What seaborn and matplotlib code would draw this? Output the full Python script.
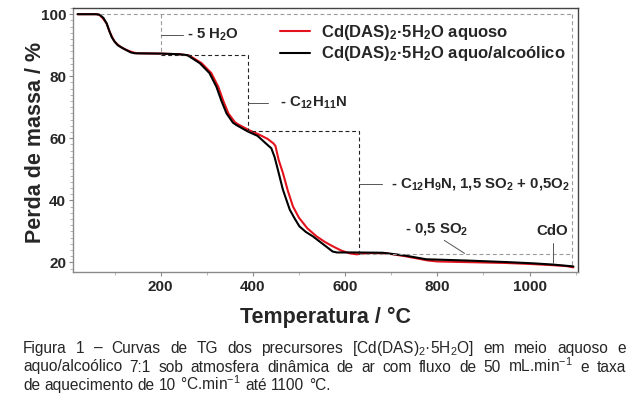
import matplotlib
matplotlib.use("Agg")
import numpy as np
import pandas as pd
import matplotlib.pyplot as plt
import seaborn as sns
from matplotlib.ticker import MultipleLocator

# ---------------- data ----------------
temp_aquoso = [20, 62, 67, 74, 83, 89, 95, 100, 107, 114, 124, 134, 142, 150, 200, 240,
               262, 289, 310, 325, 336, 347, 361, 368, 392, 412, 432, 445, 449, 456, 465,
               476, 487, 500, 518, 538, 556, 573, 592, 610, 625, 650, 690, 730, 780,
               800, 860, 950, 1000, 1050, 1080, 1095]
mass_aquoso = [100, 100, 99.8, 98.8, 97.0, 94.5, 92.6, 91.2, 90.2, 89.4, 88.6, 88.0, 87.6,
               87.4, 87.3, 87.1, 86.7, 84.2, 81.0, 76.6, 72.0, 68.0, 65.2, 64.5, 62.6,
               61.3, 59.8, 58.3, 57.5, 53.0, 48.9, 43.0, 38.0, 34.4, 31.0, 28.4, 26.6,
               25.2, 23.8, 22.9, 22.6, 23.0, 22.9, 22.0, 20.6, 20.3, 20.1, 19.8, 19.5,
               19.1, 18.8, 18.4]

temp_alcool = [20, 60, 68, 76, 83, 89, 94, 100, 107, 116, 126, 135, 144, 200, 240, 258,
               285, 306, 321, 332, 343, 357, 364, 389, 410, 436, 440, 447, 454, 465,
               480, 490, 501, 515, 530, 552, 573, 582, 620, 682, 730, 776, 863, 950,
               1007, 1050, 1095]
mass_alcool = [100, 100, 99.8, 98.8, 97.0, 94.5, 92.6, 91.2, 90.0, 89.2, 88.4, 87.7, 87.4,
               87.3, 87.1, 86.8, 84.2, 81.0, 76.6, 72.0, 68.0, 65.0, 64.3, 62.2, 60.8,
               57.3, 56.8, 54.0, 50.0, 43.5, 37.0, 34.3, 31.6, 29.8, 28.4, 25.9, 23.5,
               23.2, 23.2, 23.1, 22.2, 21.0, 20.6, 20.1, 19.7, 19.3, 18.7]

series_labels = [r"Cd(DAS)$_\mathregular{2}$·5H$_\mathregular{2}$O aquoso",
                 r"Cd(DAS)$_\mathregular{2}$·5H$_\mathregular{2}$O aquo/alcoólico"]
series_colors = ["#e3121c", "#000000"]

x_ticks = [200, 400, 600, 800, 1000]
y_ticks = [20, 40, 60, 80, 100]

# stepwise mass-loss guide (temperature limits and plateau levels)
step_temps = [200, 390, 630, 1093]
step_levels = [100, 87.0, 62.3, 22.8, 18.6]
guide_start_temp = 68

step_texts = [r"- 5 H$_\mathregular{2}$O",
              r"- C$_\mathregular{12}$H$_\mathregular{11}$N",
              r"- C$_\mathregular{12}$H$_\mathregular{9}$N, 1,5 SO$_\mathregular{2}$ + 0,5O$_\mathregular{2}$",
              r"- 0,5 SO$_\mathregular{2}$",
              "CdO"]

caption_lines = [
    r"Figura 1 – Curvas de TG dos precursores [Cd(DAS)$_\mathregular{2}$·5H$_\mathregular{2}$O] em meio aquoso e",
    r"aquo/alcoólico 7:1 sob atmosfera dinâmica de ar com fluxo de 50 mL.min$^\mathregular{-1}$ e taxa",
    r"de aquecimento de 10 °C.min$^\mathregular{-1}$ até 1100 °C.",
]

# ---------------- plot ----------------
sns.set_style("white")
plt.rcParams["font.family"] = "Liberation Sans"
plt.rcParams["mathtext.fontset"] = "custom"
plt.rcParams["mathtext.rm"] = "Liberation Sans"
plt.rcParams["mathtext.bf"] = "Liberation Sans:bold"
plt.rcParams["mathtext.it"] = "Liberation Sans:italic"

df = pd.concat([
    pd.DataFrame({"T": temp_aquoso, "m": mass_aquoso, "s": series_labels[0]}),
    pd.DataFrame({"T": temp_alcool, "m": mass_alcool, "s": series_labels[1]}),
])

W, H = 636, 398
fig = plt.figure(figsize=(W / 100, H / 100), dpi=100)
ax = fig.add_axes([73 / W, 1 - 272 / H, 505 / W, 264 / H])

sns.lineplot(data=df, x="T", y="m", hue="s", hue_order=series_labels,
             palette=dict(zip(series_labels, series_colors)), sort=False,
             estimator=None, linewidth=1.5, ax=ax)

ax.set_xlim(10, 1105)
ax.set_ylim(16.9, 102)

grey = "#9a9a9a"
dash = (0, (3.5, 2.5))
lw = 0.8
# grey frame of guide
ax.plot([guide_start_temp, step_temps[3]], [step_levels[0]] * 2, color=grey, lw=lw, ls=dash)
ax.plot([step_temps[3]] * 2, [step_levels[0], step_levels[4]], color=grey, lw=lw, ls=dash)
ax.plot([step_temps[0]] * 2, [step_levels[0], step_levels[1]], color=grey, lw=lw, ls=dash)
ax.plot([step_temps[2], step_temps[3]], [step_levels[3]] * 2, color=grey, lw=lw, ls=dash)
# black steps
ax.plot([step_temps[0], step_temps[1], step_temps[1], step_temps[2], step_temps[2]],
        [step_levels[1], step_levels[1], step_levels[2], step_levels[2], step_levels[3]],
        color="#222222", lw=lw, ls=dash)

lead = "#555555"
fs = 10.8
ax.plot([step_temps[0], 248], [93.2, 93.2], color=lead, lw=0.7)
ax.text(258, 93.2, step_texts[0], fontsize=fs, fontweight="bold", va="center")
ax.plot([step_temps[1], 432], [71.4, 71.4], color=lead, lw=0.7)
ax.text(458, 71.4, step_texts[1], fontsize=fs, fontweight="bold", va="center")
ax.plot([step_temps[2], 681], [45.4, 45.4], color=lead, lw=0.7)
ax.text(700, 45.4, step_texts[2], fontsize=fs, fontweight="bold", va="center")
ax.plot([815, 859], [27.1, 22.9], color=lead, lw=0.7)
ax.text(729, 30.6, step_texts[3], fontsize=fs, fontweight="bold", va="center")
ax.plot([1050, 1050], [26.4, 19.7], color=lead, lw=0.7)
ax.text(1049, 30.0, step_texts[4], fontsize=fs, fontweight="bold", va="center", ha="center")

# axes styling
ax.set_xticks(x_ticks)
ax.set_yticks(y_ticks)
ax.xaxis.set_minor_locator(MultipleLocator(100))
ax.yaxis.set_minor_locator(MultipleLocator(2))
ax.tick_params(which="major", direction="out", length=3, width=0.8, color="#888888",
               labelsize=11, pad=2, bottom=True, left=True)
ax.tick_params(which="minor", direction="out", length=2, width=0.6, color="#aaaaaa",
               bottom=True, left=True)
for lab in ax.get_xticklabels() + ax.get_yticklabels():
    lab.set_fontweight("bold")
ax.tick_params(axis="x", pad=3)
for side in ["left", "bottom"]:
    ax.spines[side].set_color("#8a8a8a")
    ax.spines[side].set_linewidth(1.0)
for side in ["top", "right"]:
    ax.spines[side].set_color("#444444")
    ax.spines[side].set_linewidth(1.0)

ax.set_xlabel("Temperatura / °C", fontsize=15.5, fontweight="bold", labelpad=9)
ax.set_ylabel("Perda de massa / %", fontsize=15.5, fontweight="bold")
ax.yaxis.set_label_coords((46 - 73) / 505, 0.49)

handles, labels = ax.get_legend_handles_labels()
ax.legend(handles, labels, loc="upper left", bbox_to_anchor=(0.394, 0.975),
          frameon=False, prop={"weight": "bold", "size": 12},
          handlelength=1.8, handletextpad=0.65, labelspacing=0.15, borderpad=0)

# caption, justified
fig.canvas.draw()
rend = fig.canvas.get_renderer()
x0, x1 = 23, 626
cfs = 11.2
caption_base = [353, 371.5, 390]
sp = fig.text(0, 0, "a a", fontsize=cfs)
sa = fig.text(0, 0, "aa", fontsize=cfs)
space_w = sp.get_window_extent(rend).width - sa.get_window_extent(rend).width
sp.remove(); sa.remove()
for i, (line, yp) in enumerate(zip(caption_lines, caption_base)):
    words = line.split(" ")
    ts = [fig.text(0, 1 - yp / H, w, fontsize=cfs, va="baseline", ha="left") for w in words]
    ws = [t.get_window_extent(rend).width for t in ts]
    if i < len(caption_lines) - 1:
        gap = ((x1 - x0) - sum(ws)) / (len(words) - 1)
    else:
        gap = space_w
    xp = x0
    for t, w in zip(ts, ws):
        t.set_x(xp / W)
        xp += w + gap

fig.savefig("out.png", dpi=100)
